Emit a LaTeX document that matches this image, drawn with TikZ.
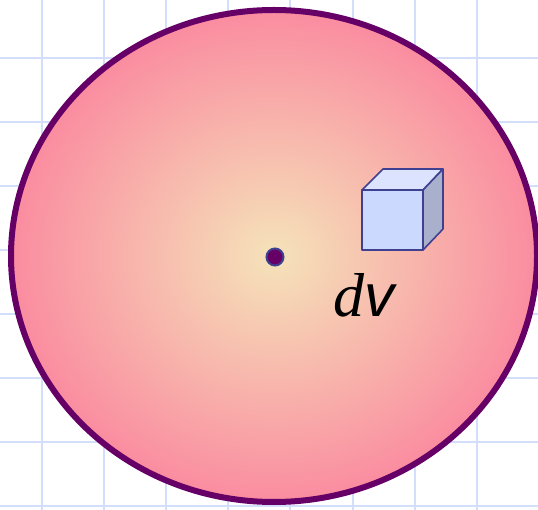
\documentclass[tikz,border=0pt]{standalone}
\usepackage{fontspec}
\newfontfamily\tnr{Liberation Serif}
\newfontfamily\ars{Liberation Sans}
\definecolor{gridc}{HTML}{D2DEFA}
\definecolor{rimc}{HTML}{660066}
\definecolor{innerc}{HTML}{F5E3B9}
\definecolor{outerc}{HTML}{FA8CA0}
\definecolor{edgec}{HTML}{404090}
\definecolor{frontc}{HTML}{CCD9FF}
\definecolor{sidec}{HTML}{A8B0CC}
\definecolor{topc}{HTML}{DCE3FF}
\pgfdeclareradialshading{ballshade}{\pgfpoint{0bp}{0bp}}{color(0bp)=(innerc); color(25bp)=(outerc); color(50bp)=(outerc)}
\tikzset{
  gridline/.style={draw=gridc, line width=2pt},
  cubeface/.style={draw=edgec, line width=1.6pt, line join=round},
}
\begin{document}
\begin{tikzpicture}[x=1pt,y=-1pt]
\useasboundingbox (0,0) rectangle (538,510);
\fill[white] (0,0) rectangle (538,510);
\foreach \k in {0,...,7} {
  \draw[gridline] ({42+62.1*\k},0) -- ({42+62.1*\k},510);
  \draw[gridline] (0,{58+64*\k}) -- (538,{58+64*\k});
}
\path[shading=ballshade, draw=rimc, line width=6pt] (274,256) ellipse [x radius=263, y radius=246];
\coordinate (c) at (275,257);
\node[circle, fill=rimc, draw=edgec, line width=2pt, minimum size=17pt, inner sep=0pt] (dot) at (c) {};
% cube
\coordinate (f1) at (362,190);
\coordinate (f2) at (423,190);
\coordinate (f3) at (423,250);
\coordinate (f4) at (362,250);
\coordinate (b1) at (383,169);
\coordinate (b2) at (443,169);
\coordinate (b3) at (443,229);
\filldraw[cubeface, fill=topc] (f1) -- (b1) -- (b2) -- (f2) -- cycle;
\filldraw[cubeface, fill=sidec] (f2) -- (b2) -- (b3) -- (f3) -- cycle;
\filldraw[cubeface, fill=frontc] (f1) -- (f2) -- (f3) -- (f4) -- cycle;
\node[anchor=base west, inner sep=0pt] (dv) at (333,317) {\tnr\itshape\fontsize{62}{62}\selectfont d\ars\fontsize{60}{60}\selectfont v};
\end{tikzpicture}
\end{document}
